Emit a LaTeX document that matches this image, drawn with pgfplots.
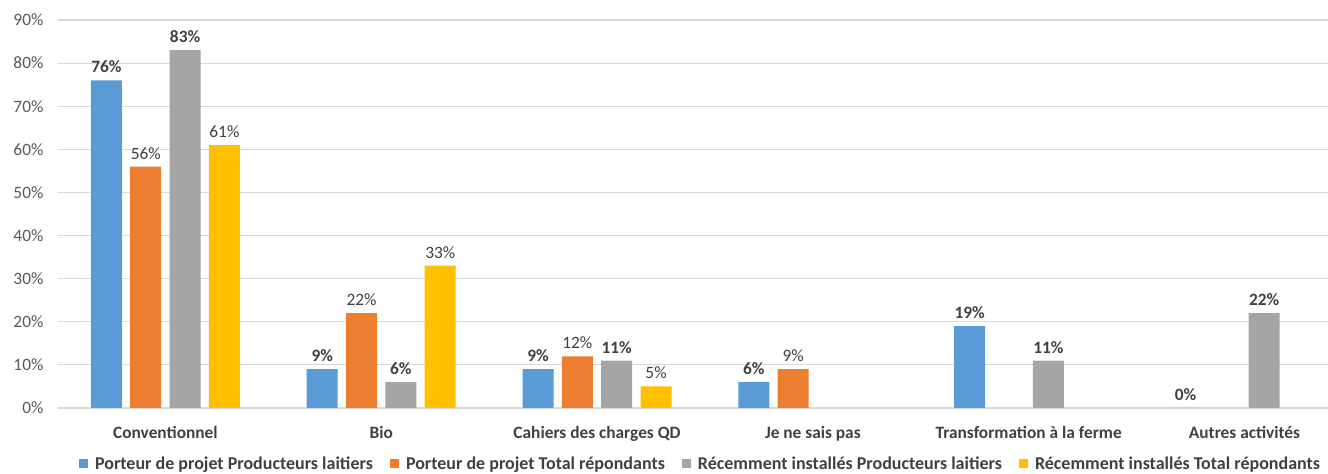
\documentclass[border=0pt]{standalone}
\usepackage{fontspec}
\setmainfont{Carlito}
\usepackage{pgfplots}
\pgfplotsset{compat=1.18}
\definecolor{cblue}{HTML}{5B9BD5}
\definecolor{corange}{HTML}{ED7D31}
\definecolor{cgray}{HTML}{A5A5A5}
\definecolor{cyellow}{HTML}{FFC000}
\definecolor{ctext}{HTML}{404040}
\definecolor{ctick}{HTML}{595959}
\definecolor{cgrid}{HTML}{D9D9D9}

\begin{document}
\begin{tikzpicture}
\begin{axis}[
    at={(43.125pt,49.5pt)}, anchor=south west,
    scale only axis, width=952.9pt, height=291pt,
    ybar, bar width=23.25pt,
    xmin=-0.5, xmax=5.387, ymin=0, ymax=90,
    ytick={0,10,...,90},
    xtick={0,...,5},
    xticklabels={Conventionnel, Bio, Cahiers des charges QD, Je ne sais pas, Transformation à la ferme, Autres activités},
    xticklabel style={font=\fontsize{13}{15}\selectfont\bfseries, text=ctext, yshift=-10pt},
    yticklabel={\pgfmathprintnumber{\tick}\%},
    yticklabel style={font=\fontsize{13}{15}\selectfont, text=ctick, xshift=-7pt},
    /pgf/number format/assume math mode=true,
    major tick length=0pt,
    axis line style={draw=none},
    ymajorgrids, grid style={cgrid, line width=0.9pt},
    clip=false,
    nodes near coords={\pgfmathprintnumber{\pgfplotspointmeta}\%},
    every node near coord/.append style={font=\fontsize{13}{15}\selectfont, text=ctext, yshift=2pt},
    legend columns=4,
    legend style={draw=none, fill=none, at={(0.5065,-0.144)}, anchor=center,
        font=\fontsize{13.5}{15}\selectfont\bfseries, text=ctext,
        /tikz/every odd column/.append style={column sep=3pt},
        /tikz/every even column/.append style={column sep=11pt}},
    legend image code/.code={\fill[#1] (0pt,-3.4pt) rectangle (6.8pt,3.4pt);},
]
\addplot[fill=cblue, draw=none, bar shift=-44.25pt,
    every node near coord/.append style={font=\fontsize{13}{15}\selectfont\bfseries}]
    coordinates {(0,76) (1,9) (2,9) (3,6) (4,19) (5,0)};
\addplot[fill=corange, draw=none, bar shift=-14.75pt]
    coordinates {(0,56) (1,22) (2,12) (3,9)};
\addplot[fill=cgray, draw=none, bar shift=14.75pt,
    every node near coord/.append style={font=\fontsize{13}{15}\selectfont\bfseries}]
    coordinates {(0,83) (1,6) (2,11) (4,11) (5,22)};
\addplot[fill=cyellow, draw=none, bar shift=44.25pt]
    coordinates {(0,61) (1,33) (2,5)};
\legend{Porteur de projet Producteurs laitiers, Porteur de projet Total répondants, Récemment installés Producteurs laitiers, Récemment installés Total répondants}
\end{axis}
\pgfresetboundingbox
\useasboundingbox (0pt,0pt) rectangle (996pt,355.5pt);
\end{tikzpicture}
\end{document}
